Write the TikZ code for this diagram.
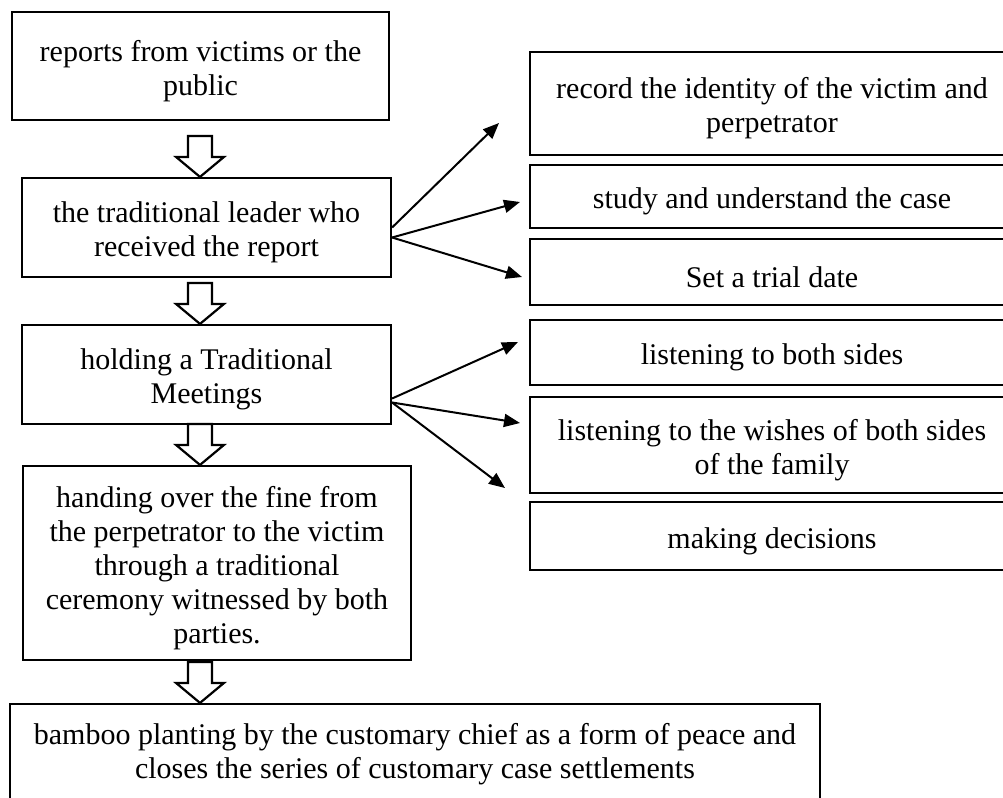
\documentclass[tikz,border=0pt]{standalone}
\usepackage{fontspec}
\setmainfont{Liberation Serif}
\usepackage{tikz}
\usetikzlibrary{arrows.meta, calc}
\newcommand{\lift}{\rule{0pt}{15.5pt}}
\tikzstyle{stepbox} = [rectangle, draw=black, line width=1.1pt, inner sep=2pt, align=center, font=\fontsize{15}{17}\selectfont]
\tikzstyle{pointer} = [line width=1pt, -{Triangle[length=8pt, width=6.5pt]}]
\tikzstyle{hollow} = [draw=black, line width=1.1pt, fill=white, line join=miter]
% hollow block arrow ending on top of the given box
\newcommand{\downblock}[1]{\draw [hollow] (#1.north -| axis) -- ++(-24,-20) -- ++(12,0) -- ++(0,-21) -- ++(24,0) -- ++(0,21) -- ++(12,0) -- cycle;}

\begin{document}
\begin{tikzpicture}[x=0.5pt, y=-0.5pt]
\useasboundingbox (0,0) rectangle (1003,798);
\coordinate (axis) at (200,0);

% main column
\node (report) [stepbox, minimum width=188.5pt, minimum height=54pt] at (200.5,66) {\lift reports from victims or the\\public};
\node (leader) [stepbox, minimum width=184.5pt, minimum height=49.5pt] at (206.5,227.5) {\lift the traditional leader who\\received the report};
\node (meeting) [stepbox, minimum width=184.5pt, minimum height=49.5pt] at (206.5,374.5) {\lift holding a Traditional\\Meetings};
\node (handover) [stepbox, minimum width=194pt, minimum height=97pt] at (217,563) {\lift handing over the fine from\\the perpetrator to the victim\\through a traditional\\ceremony witnessed by both\\parties.};
\node (bamboo) [stepbox, minimum width=405pt, minimum height=50pt] at (415,754) {bamboo planting by the customary chief as a form of peace and\\closes the series of customary case settlements};

% side column
\node (identity) [stepbox, minimum width=242pt, minimum height=51.5pt] at (772,103.5) {\lift record the identity of the victim and\\perpetrator};
\node (study) [stepbox, minimum width=242pt, minimum height=31.5pt] at (772,196.5) {\lift study and understand the case};
\node (trial) [stepbox, minimum width=242pt, minimum height=33pt] at (772,272) {\lift Set a trial date};
\node (listen) [stepbox, minimum width=242pt, minimum height=32.5pt] at (772,352.5) {\lift listening to both sides};
\node (wishes) [stepbox, minimum width=242pt, minimum height=48pt] at (772,445) {\lift listening to the wishes of both sides\\of the family};
\node (decide) [stepbox, minimum width=242pt, minimum height=34pt] at (772,536) {\lift making decisions};

% block arrows
\downblock{leader}
\downblock{meeting}
\downblock{handover}
\downblock{bamboo}

% arrow ends
\coordinate (t1) at (499,123);
\coordinate (t2) at (520,202);
\coordinate (t3) at (522,277);
\coordinate (t4) at (518,342);
\coordinate (t5) at (520,423);
\coordinate (t6) at (505,488);

\draw [pointer] (leader.east) -- (t1);
\draw [pointer] ($(leader.east)+(0,10)$) -- (t2);
\draw [pointer] ($(leader.east)+(0,10)$) -- (t3);
\draw [pointer] ($(meeting.east)+(0,24)$) -- (t4);
\draw [pointer] ($(meeting.east)+(0,28)$) -- (t5);
\draw [pointer] ($(meeting.east)+(0,28)$) -- (t6);

\end{tikzpicture}
\end{document}
